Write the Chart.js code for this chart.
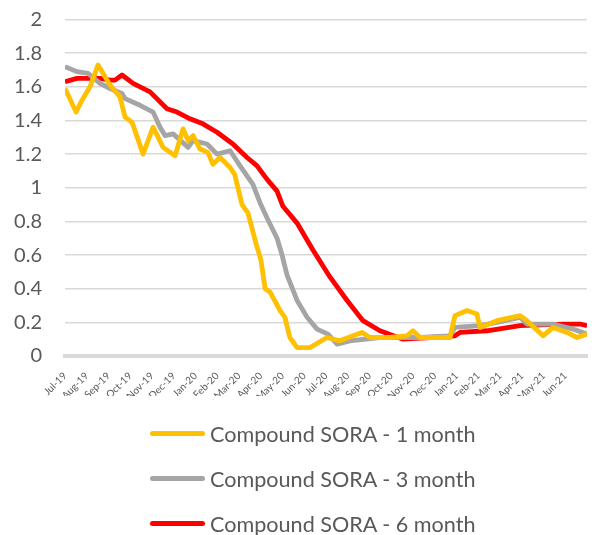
<!DOCTYPE html>
<html>
<head>
<meta charset="utf-8">
<script src="https://cdn.jsdelivr.net/npm/chart.js@4"></script>
<style>
  body { margin: 0; background: #fff; }
  #wrap { position: relative; width: 596px; height: 535px; }
  #legend { position: absolute; left: 150px; top: 411px; font-family: Lato, sans-serif; font-size: 21.6px; color: #595959; }
  .item { display: flex; align-items: center; height: 45px; }
  .swatch { width: 55px; height: 5px; border-radius: 3px; margin-right: 5px; }
</style>
</head>
<body>
<div id="wrap">
  <canvas id="sora" width="596" height="535"></canvas>
  <div id="legend"></div>
</div>
<script>
const monthLabels = ['Jul-19','Aug-19','Sep-19','Oct-19','Nov-19','Dec-19','Jan-20','Feb-20','Mar-20','Apr-20','May-20','Jun-20',
                     'Jul-20','Aug-20','Sep-20','Oct-20','Nov-20','Dec-20','Jan-21','Feb-21','Mar-21','Apr-21','May-21','Jun-21'];
const seriesNames = ['Compound SORA - 1 month', 'Compound SORA - 3 month', 'Compound SORA - 6 month'];
const seriesColors = ['#FFC000', '#A5A5A5', '#FF0000'];

// x positions in months since Jul-19
const oneMonthX = [0,0.51,0.78,1.15,1.52,2.07,2.53,2.76,3.08,3.59,4.05,4.51,5.06,5.43,5.66,5.89,6.21,6.57,6.8,7.13,7.59,7.8,
                   8.14,8.41,8.78,9.01,9.2,9.43,9.89,10.11,10.34,10.67,11.26,12.05,12.64,13.24,13.66,14.02,14.94,15.72,16,16.32,
                   17.7,17.93,18.48,18.94,19.08,19.86,20.92,21.24,21.98,22.44,23.08,23.54,24];
const oneMonthY = [1.59,1.45,1.52,1.6,1.73,1.61,1.54,1.42,1.39,1.2,1.36,1.24,1.19,1.35,1.28,1.31,1.23,1.21,1.14,1.18,1.12,1.08,
                   0.9,0.85,0.67,0.57,0.4,0.38,0.27,0.23,0.11,0.05,0.05,0.11,0.09,0.12,0.14,0.11,0.11,0.12,0.15,0.11,
                   0.11,0.24,0.27,0.25,0.17,0.21,0.24,0.21,0.12,0.17,0.14,0.11,0.13];

const threeMonthX = [0,0.55,1.06,1.61,2.07,2.62,2.76,3.45,4.05,4.37,4.6,4.97,5.66,5.89,6.53,6.99,7.59,8.05,8.64,8.97,9.29,9.75,
                     9.98,10.21,10.67,11.13,11.59,12.09,12.51,13.1,14.48,16.32,17.7,17.93,19.08,19.86,20.92,21.24,22.44,23.36,24];
const threeMonthY = [1.72,1.69,1.68,1.62,1.59,1.56,1.53,1.49,1.45,1.36,1.31,1.32,1.24,1.28,1.26,1.2,1.22,1.13,1.02,0.91,0.82,0.7,
                     0.6,0.48,0.33,0.23,0.16,0.13,0.07,0.09,0.11,0.11,0.12,0.17,0.18,0.2,0.23,0.19,0.19,0.16,0.13];

const sixMonthX = [0,0.55,1.61,2.07,2.3,2.62,3.13,3.91,4.69,5.15,5.75,6.34,6.99,7.72,8.37,8.83,9.29,9.75,10.02,10.67,11.4,12.18,
                   12.97,13.7,14.48,15.54,16.78,17.93,18.16,19.4,20.92,22.9,23.68,24];
const sixMonthY = [1.63,1.65,1.65,1.64,1.64,1.67,1.62,1.57,1.47,1.45,1.41,1.38,1.33,1.26,1.18,1.13,1.05,0.98,0.89,0.79,0.63,0.47,
                   0.33,0.21,0.15,0.1,0.11,0.12,0.14,0.15,0.18,0.19,0.19,0.18];

const yTicks = [0,0.2,0.4,0.6,0.8,1,1.2,1.4,1.6,1.8,2];

function points(xs, ys) {
  return xs.map((x, i) => ({x: x, y: ys[i]}));
}

const allSeries = [points(oneMonthX, oneMonthY), points(threeMonthX, threeMonthY), points(sixMonthX, sixMonthY)];

const chart = new Chart(document.getElementById('sora'), {
  type: 'line',
  data: {
    datasets: allSeries.map((d, i) => ({
      label: seriesNames[i],
      data: d,
      borderColor: seriesColors[i],
      backgroundColor: seriesColors[i],
      borderWidth: 4.8,
      pointRadius: 0,
      tension: 0,
      borderJoinStyle: 'round'
    }))
  },
  options: {
    responsive: false,
    animation: false,
    layout: {padding: {top: 19.5, right: 9, left: 0, bottom: 139}},
    plugins: {legend: {display: false}, tooltip: {enabled: false}},
    scales: {
      x: {
        type: 'linear',
        min: 0,
        max: 24,
        afterFit: (s) => { s.height = 40; },
        afterBuildTicks: (s) => { s.ticks = monthLabels.map((m, i) => ({value: i})); },
        ticks: {
          autoSkip: false,
          maxRotation: 45,
          minRotation: 45,
          padding: 6,
          color: '#595959',
          font: {family: 'Lato', size: 10},
          callback: (v) => monthLabels[v]
        },
        grid: {display: false},
        border: {display: true, color: '#d9d9d9', width: 4}
      },
      y: {
        min: 0,
        max: 2,
        afterFit: (s) => { s.width = 65; },
        afterBuildTicks: (s) => { s.ticks = yTicks.map(v => ({value: v})); },
        ticks: {
          padding: 0,
          color: '#595959',
          font: {family: 'Lato', size: 20},
          callback: (v) => String(+v.toFixed(1))
        },
        grid: {color: '#d9d9d9', lineWidth: 1.5, drawTicks: true, tickLength: 23, tickColor: 'rgba(0,0,0,0)'},
        border: {display: false}
      }
    }
  }
});

const legend = document.getElementById('legend');
seriesNames.forEach((name, i) => {
  const row = document.createElement('div');
  row.className = 'item';
  const sw = document.createElement('span');
  sw.className = 'swatch';
  sw.style.background = seriesColors[i];
  const txt = document.createElement('span');
  txt.textContent = name;
  row.appendChild(sw);
  row.appendChild(txt);
  legend.appendChild(row);
});
</script>
</body>
</html>
